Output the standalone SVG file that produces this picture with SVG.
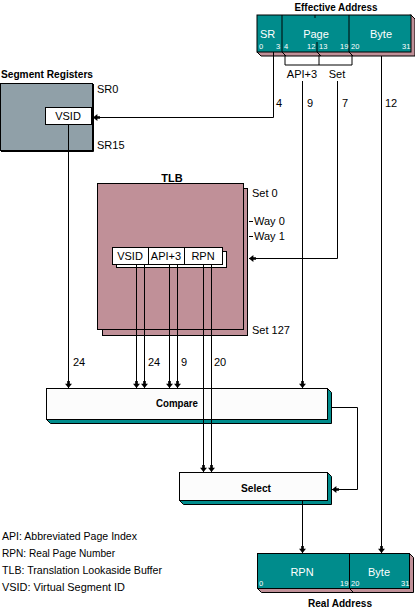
<svg xmlns="http://www.w3.org/2000/svg" width="415" height="611" viewBox="0 0 415 611">
<style>
text{font-family:"Liberation Sans",Arial,sans-serif;font-size:11px;fill:#000}
.b{font-weight:bold}
.w{fill:#fff}
.s{font-size:7.5px}
.m{text-anchor:middle}
.ln{fill:none;stroke:#000;stroke-width:1}
.box{stroke:#000;stroke-width:1}
</style>
<defs>
<marker id="ah" viewBox="0 0 8 8" refX="8" refY="4" markerWidth="7" markerHeight="7" markerUnits="userSpaceOnUse" orient="auto">
<path d="M0,2.5 L3,2.5 L3,0 L8,4 L3,8 L3,5.5 L0,5.5 z" fill="#000"/>
</marker>
</defs>

<g id="effective-address">
<text class="b m" x="336" y="11" textLength="83" lengthAdjust="spacingAndGlyphs">Effective Address</text>
<polygon class="box" fill="#c09098" points="257,52 261,56 415,56 415,19 411,15"/>
<rect class="box" fill="#008c8c" x="257" y="15" width="154" height="37"/>
<path class="ln" d="M282,15 V52 L286,56 M349,15 V52 L353,56 M317,42 V52 L321,56 M315,15 V18"/>
<text class="w" x="260" y="38">SR</text>
<text class="w m" x="316" y="38">Page</text>
<text class="w m" x="381" y="38">Byte</text>
<text class="w s" x="259" y="49">0</text>
<text class="w s" x="276" y="49">3</text>
<text class="w s" x="284" y="49">4</text>
<text class="w s" x="307" y="49">12</text>
<text class="w s" x="319" y="49">13</text>
<text class="w s" x="340" y="49">19</text>
<text class="w s" x="351" y="49">20</text>
<text class="w s" x="402" y="49">31</text>
<path class="ln" d="M285,55 V65 H352 V55 M319,55 V65"/>
<text class="m" x="302" y="78">API+3</text>
<text class="m" x="337" y="78">Set</text>
</g>

<g id="segment-registers">
<text class="b" x="1" y="78" textLength="92" lengthAdjust="spacingAndGlyphs">Segment Registers</text>
<rect class="box" fill="#90a0a8" x="0.5" y="83.5" width="92" height="67"/>
<path class="ln" d="M93.5,84 V151.5 H1" stroke-width="2"/>
<rect class="box" fill="#fff" x="45.5" y="107.5" width="46" height="17"/>
<text class="m" x="68" y="120">VSID</text>
<text x="97" y="93">SR0</text>
<text x="97" y="149">SR15</text>
</g>

<g id="tlb">
<text class="b m" x="172" y="182">TLB</text>
<rect class="box" fill="#c09098" x="102.5" y="188.5" width="145" height="147" stroke-width="2"/>
<rect class="box" fill="#c09098" x="97.5" y="183.5" width="146" height="146"/>
<rect class="box" fill="#fff" x="116.5" y="251.5" width="110" height="16"/>
<rect class="box" fill="#fff" x="112.5" y="247.5" width="36" height="17"/>
<rect class="box" fill="#fff" x="148.5" y="247.5" width="36" height="17"/>
<rect class="box" fill="#fff" x="184.5" y="247.5" width="38" height="17"/>
<text class="m" x="130" y="260">VSID</text>
<text class="m" x="166" y="260">API+3</text>
<text class="m" x="203" y="260">RPN</text>
<path class="ln" d="M249,221.5 H253 M249,236.5 H253"/>
<text x="252" y="197">Set 0</text>
<text x="254" y="225">Way 0</text>
<text x="254" y="240">Way 1</text>
<text x="252" y="334">Set 127</text>
</g>

<g id="compare">
<polygon class="box" fill="#008c8c" points="46.5,419.5 50.5,423.5 331.5,423.5 331.5,392.5 327.5,388.5"/>
<rect class="box" fill="#fcfcfc" x="46.5" y="388.5" width="281" height="31"/>
<text class="b m" x="177" y="407" textLength="42" lengthAdjust="spacingAndGlyphs">Compare</text>
</g>

<g id="select">
<polygon class="box" fill="#008c8c" points="179.5,500.5 183.5,504.5 331.5,504.5 331.5,476.5 327.5,472.5"/>
<rect class="box" fill="#fcfcfc" x="179.5" y="472.5" width="148" height="28"/>
<text class="b m" x="256" y="492" textLength="30" lengthAdjust="spacingAndGlyphs">Select</text>
</g>

<g id="real-address">
<polygon class="box" fill="#c09098" points="257.5,588.5 261.5,592.5 413.5,592.5 413.5,557.5 409.5,553.5"/>
<rect class="box" fill="#008c8c" x="257.5" y="553.5" width="152" height="35"/>
<path class="ln" d="M349.5,553.5 V588.5 L353.5,592.5"/>
<text class="w m" x="302" y="576">RPN</text>
<text class="w m" x="379" y="576">Byte</text>
<text class="w s" x="259" y="586">0</text>
<text class="w s" x="340" y="586">19</text>
<text class="w s" x="351" y="586">20</text>
<text class="w s" x="401" y="586">31</text>
<text class="b m" x="340" y="607" textLength="64" lengthAdjust="spacingAndGlyphs">Real Address</text>
</g>

<g id="legend">
<text x="2" y="540" textLength="135" lengthAdjust="spacingAndGlyphs">API: Abbreviated Page Index</text>
<text x="2" y="557" textLength="113" lengthAdjust="spacingAndGlyphs">RPN: Real Page Number</text>
<text x="2" y="574" textLength="160" lengthAdjust="spacingAndGlyphs">TLB: Translation Lookaside Buffer</text>
<text x="2" y="591" textLength="123" lengthAdjust="spacingAndGlyphs">VSID: Virtual Segment ID</text>
</g>

<g id="connectors">
<path class="ln" d="M273.5,52 V117.5 H93" marker-end="url(#ah)"/>
<path class="ln" d="M302.5,81 V388" marker-end="url(#ah)"/>
<path class="ln" d="M337.5,81 V258.5 H249" marker-end="url(#ah)"/>
<path class="ln" d="M381.5,56 V553" marker-end="url(#ah)"/>
<path class="ln" d="M68.5,125 V388" marker-end="url(#ah)"/>
<path class="ln" d="M136.5,265 V388" marker-end="url(#ah)"/>
<path class="ln" d="M144.5,265 V388" marker-end="url(#ah)"/>
<path class="ln" d="M169.5,265 V388" marker-end="url(#ah)"/>
<path class="ln" d="M177.5,265 V388" marker-end="url(#ah)"/>
<path class="ln" d="M203.5,265 V472" marker-end="url(#ah)"/>
<path class="ln" d="M211.5,265 V472" marker-end="url(#ah)"/>
<path class="ln" d="M331,407.5 H357.5 V489.5 H332" marker-end="url(#ah)"/>
<path class="ln" d="M302.5,501 V553" marker-end="url(#ah)"/>
<text x="276" y="107">4</text>
<text x="307" y="107">9</text>
<text x="342" y="107">7</text>
<text x="385" y="107">12</text>
<text x="73" y="366">24</text>
<text x="148" y="366">24</text>
<text x="181" y="366">9</text>
<text x="214" y="366">20</text>
</g>
</svg>
